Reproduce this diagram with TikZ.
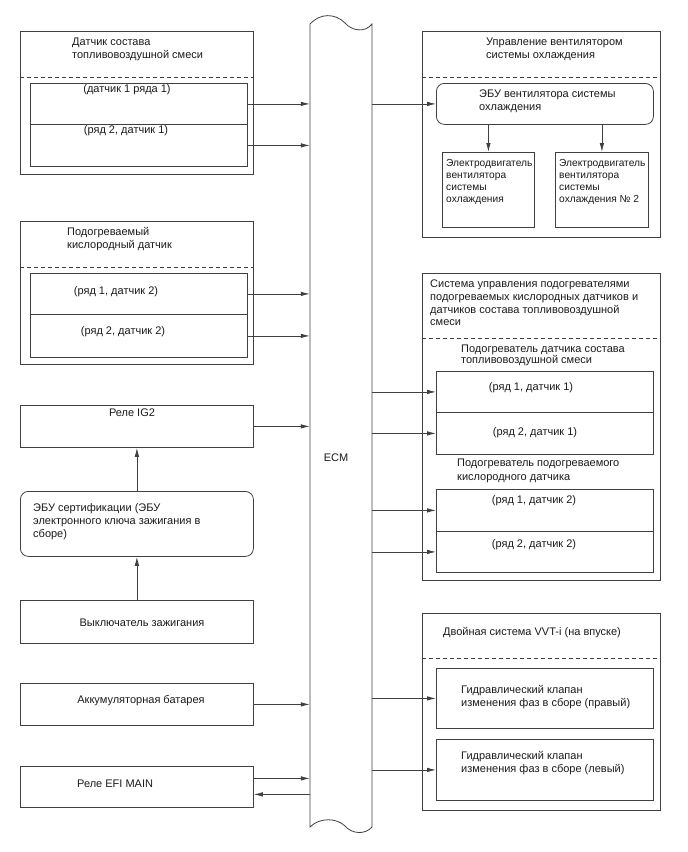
\documentclass[tikz,border=0pt]{standalone}
\usepackage{fontspec}
\setmainfont{Liberation Sans}
\usetikzlibrary{arrows.meta, positioning}
\definecolor{lncol}{HTML}{404040}
\definecolor{txcol}{HTML}{1a1a1a}

\begin{document}
\begin{tikzpicture}[x=1pt, y=-1pt, >={Latex[length=9pt,width=4.5pt]},
                    font=\fontsize{11}{13}\selectfont]
  \tikzstyle{blk}=[rectangle, draw=lncol, line width=0.8pt, anchor=north west,
                   inner sep=0pt]
  \tikzstyle{rblk}=[blk, rounded corners=8pt]
  \tikzstyle{arr}=[->, line width=0.8pt, color=lncol]
  \tikzstyle{dashln}=[line width=0.8pt, color=lncol, dash pattern=on 4pt off 3pt]
  \tikzstyle{lbl}=[inner sep=0pt, text=txcol, align=left]
  \useasboundingbox (0,0) rectangle (688,852);

  % ECM bus
  \draw[line width=0.8pt, color=lncol] (310,24) .. controls (320,13) and (335,13) .. (345,23)
    .. controls (352,31) and (365,33) .. (372,24) -- (372,827)
    .. controls (365,835) and (352,834) .. (345,826)
    .. controls (337,818) and (320,817) .. (310,827) -- cycle;
  \node[minimum width=62pt, minimum height=800pt, inner sep=0pt] (ecm) at (341,425) {};
  \node[lbl] (ecmlbl) at (336,458) {ECM};

  % left side
  \node[blk, minimum width=233pt, minimum height=143pt] (afsbox) at (20,31) {};
  \draw[dashln] (20,77) -- (253,77);
  \node[blk, minimum width=217pt, minimum height=41pt] (afs1) at (30,83) {};
  \node[blk, minimum width=217pt, minimum height=42pt] (afs2) at (30,124) {};
  \node[lbl, anchor=north west] (afst) at (72,38) {Датчик состава\\топливовоздушной смеси};
  \node[lbl] at (127,90) {(датчик 1 ряда 1)};
  \node[lbl] at (126,131) {(ряд 2, датчик 1)};

  \node[blk, minimum width=233pt, minimum height=143pt] (hobox) at (20,221) {};
  \draw[dashln] (20,267) -- (253,267);
  \node[blk, minimum width=217pt, minimum height=41pt] (ho1) at (30,273) {};
  \node[blk, minimum width=217pt, minimum height=43pt] (ho2) at (30,314) {};
  \node[lbl, anchor=north west] (hot) at (67,227) {Подогреваемый\\кислородный датчик};
  \node[lbl] at (116,292) {(ряд 1, датчик 2)};
  \node[lbl] at (123,332) {(ряд 2, датчик 2)};

  \node[blk, minimum width=233pt, minimum height=42pt] (ig2) at (20,405) {};
  \node[lbl] at (132,413) {Реле IG2};
  \node[rblk, minimum width=233pt, minimum height=65pt] (cert) at (20,491) {};
  \node[lbl, anchor=north west] at (33,503) {ЭБУ сертификации (ЭБУ\\электронного ключа зажигания в\\сборе)};
  \node[blk, minimum width=233pt, minimum height=43pt] (ign) at (20,600) {};
  \node[lbl] at (142,623) {Выключатель зажигания};
  \node[blk, minimum width=233pt, minimum height=42pt] (batt) at (20,683) {};
  \node[lbl] at (141,701) {Аккумуляторная батарея};
  \node[blk, minimum width=233pt, minimum height=41pt] (efi) at (20,766) {};
  \node[lbl, anchor=west] at (77,784) {Реле EFI MAIN};

  % right side
  \node[blk, minimum width=238pt, minimum height=206pt] (fanbox) at (422,31) {};
  \draw[dashln] (422,77) -- (660,77);
  \node[lbl, anchor=north west] at (486,38) {Управление вентилятором\\системы охлаждения};
  \node[rblk, minimum width=217pt, minimum height=41pt] (fanecu) at (436,83) {};
  \node[lbl, anchor=north west] at (479,90) {ЭБУ вентилятора системы\\охлаждения};
  \node[blk, minimum width=92pt, minimum height=75pt] (mot1) at (442,152) {};
  \node[blk, minimum width=93pt, minimum height=75pt] (mot2) at (555,152) {};
  \node[lbl, anchor=north west, font=\fontsize{10.2}{12}\selectfont] at (446,159)
    {Электродвигатель\\вентилятора\\системы\\охлаждения};
  \node[lbl, anchor=north west, font=\fontsize{10.2}{12}\selectfont] at (559,159)
    {Электродвигатель\\вентилятора\\системы\\охлаждения № 2};

  \node[blk, minimum width=238pt, minimum height=307pt] (heatbox) at (422,273) {};
  \draw[dashln] (422,338) -- (660,338);
  \node[lbl, anchor=north west, font=\fontsize{11}{12.7}\selectfont] at (430,280)
    {Система управления подогревателями\\подогреваемых кислородных датчиков и\\датчиков состава топливовоздушной\\смеси};
  \node[lbl, anchor=north west, font=\fontsize{11}{10.5}\selectfont] at (461,345)
    {Подогреватель датчика состава\\топливовоздушной смеси};
  \node[blk, minimum width=217pt, minimum height=41pt] (ha1) at (436,371) {};
  \node[blk, minimum width=217pt, minimum height=42pt] (ha2) at (436,412) {};
  \node[lbl] at (531,388) {(ряд 1, датчик 1)};
  \node[lbl] at (535,433) {(ряд 2, датчик 1)};
  \node[lbl, anchor=north west, font=\fontsize{11}{14}\selectfont] at (457,459)
    {Подогреватель подогреваемого\\кислородного датчика};
  \node[blk, minimum width=217pt, minimum height=42pt] (hb1) at (436,489) {};
  \node[blk, minimum width=217pt, minimum height=41pt] (hb2) at (436,531) {};
  \node[lbl] at (534,501) {(ряд 1, датчик 2)};
  \node[lbl] at (534,545) {(ряд 2, датчик 2)};

  \node[blk, minimum width=238pt, minimum height=197pt] (vvtbox) at (422,613) {};
  \draw[dashln] (422,658) -- (660,658);
  \node[lbl] at (532,633) {Двойная система VVT-i (на впуске)};
  \node[blk, minimum width=217pt, minimum height=60pt] (ocv1) at (436,668) {};
  \node[blk, minimum width=217pt, minimum height=61pt] (ocv2) at (436,739) {};
  \node[lbl, anchor=north west] at (461,685) {Гидравлический клапан\\изменения фаз в сборе (правый)};
  \node[lbl, anchor=north west] at (461,751) {Гидравлический клапан\\изменения фаз в сборе (левый)};

  % connectors
  \foreach \src in {afs1, afs2, ho1, ho2, ig2, batt}
    \draw[arr] (\src.east) -- (\src.east -| ecm.west);
  \draw[arr] ([yshift=8.5pt]efi.east) -- ([yshift=8.5pt]efi.east -| ecm.west);
  \draw[arr] ([yshift=-7.5pt]efi.east -| ecm.west) -- ([yshift=-7.5pt]efi.east);
  \draw[arr] (ign.north) -- (cert.south);
  \draw[arr] (cert.north) -- (ig2.south);
  \foreach \dst in {fanecu, ha1, ha2, hb1, hb2, ocv1, ocv2}
    \draw[arr] (\dst.west -| ecm.east) -- (\dst.west);
  \draw[arr] (fanecu.south -| mot1.north) -- (mot1.north);
  \draw[arr] (fanecu.south -| mot2.north) -- (mot2.north);
\end{tikzpicture}
\end{document}
